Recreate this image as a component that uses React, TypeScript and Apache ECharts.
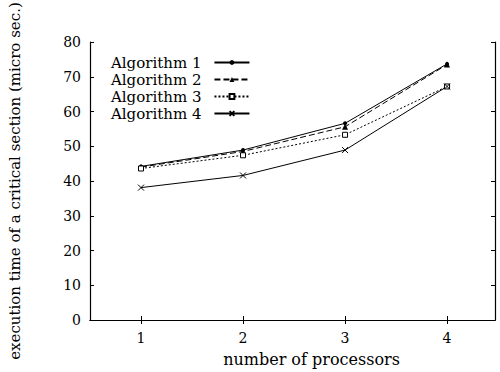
import React, { useEffect, useRef } from "react";
import * as echarts from "echarts";

const processors = [1, 2, 3, 4];
const seriesNames = ["Algorithm 1", "Algorithm 2", "Algorithm 3", "Algorithm 4"];
const alg1 = [44.2, 48.9, 56.6, 73.7];
const alg2 = [44.0, 48.5, 55.6, 73.5];
const alg3 = [43.6, 47.4, 53.3, 67.2];
const alg4 = [38.1, 41.6, 48.9, 67.2];
const xTitle = "number of processors";
const yTitle = "execution time of a critical section (micro sec.)";

const FONT = "DejaVu Serif";

export default function App() {
  const ref = useRef<HTMLDivElement>(null);
  useEffect(() => {
    if (!ref.current) return;
    const chart = echarts.init(ref.current, undefined, { renderer: "svg" });
    const pts = (vals: number[]) => processors.map((p, i) => [p, vals[i]]);
    const baseLine = { color: "#000", width: 1 };
    const xCommon = {
      type: "value" as const,
      min: 0.5,
      max: 4.47,
      splitLine: { show: false },
      axisLine: { show: true, lineStyle: { color: "#000", width: 1.2 } },
      axisTick: { show: true, inside: true, length: 4, customValues: processors, lineStyle: { color: "#000" } },
    };
    const yCommon = {
      type: "value" as const,
      min: 0,
      max: 80,
      interval: 10,
      splitLine: { show: false },
      axisLine: { show: true, lineStyle: { color: "#000", width: 1.2 } },
      axisTick: { show: true, inside: true, length: 4, lineStyle: { color: "#000" } },
    };
    chart.setOption({
      animation: false,
      backgroundColor: "#fff",
      textStyle: { fontFamily: FONT, color: "#000" },
      grid: { left: 90, right: 5, top: 42, bottom: 50 },
      legend: {
        left: 111,
        top: 55,
        orient: "vertical",
        align: "right",
        padding: 0,
        itemGap: 2,
        itemWidth: 35,
        itemHeight: 6,
        textStyle: { fontFamily: FONT, fontSize: 15, color: "#000", padding: [0, 8, 0, 0] },
        data: seriesNames,
      },
      xAxis: [
        {
          ...xCommon,
          position: "bottom",
          axisLabel: { show: true, customValues: processors, margin: 11, fontSize: 14, color: "#000", fontFamily: FONT },
          name: xTitle,
          nameLocation: "middle",
          nameGap: 31,
          nameTextStyle: { fontSize: 16, color: "#000", fontFamily: FONT, padding: [0, 0, 0, 38] },
        },
        { ...xCommon, position: "top", axisLabel: { show: false } },
      ],
      yAxis: [
        {
          ...yCommon,
          position: "left",
          axisLabel: { show: true, margin: 9, fontSize: 14, color: "#000", fontFamily: FONT },
        },
        { ...yCommon, position: "right", axisLabel: { show: false } },
      ],
      graphic: [
        {
          type: "text",
          x: 15,
          y: 181,
          rotation: Math.PI / 2,
          style: {
            text: yTitle,
            fontSize: 15,
            fontFamily: FONT,
            fill: "#000",
            textAlign: "center",
            textVerticalAlign: "middle",
          },
        },
      ],
      series: [
        {
          name: seriesNames[0],
          type: "line",
          data: pts(alg1),
          symbol: "circle",
          symbolSize: 4,
          lineStyle: { ...baseLine, type: "solid" },
          itemStyle: { color: "#000" },
        },
        {
          name: seriesNames[1],
          type: "line",
          data: pts(alg2),
          symbol: "triangle",
          symbolSize: 6,
          lineStyle: { ...baseLine, type: [6, 3] },
          itemStyle: { color: "#000" },
        },
        {
          name: seriesNames[2],
          type: "line",
          data: pts(alg3),
          symbol: "rect",
          symbolSize: 5,
          lineStyle: { ...baseLine, type: [2, 2] },
          itemStyle: { color: "#fff", borderColor: "#000", borderWidth: 1 },
        },
        {
          name: seriesNames[3],
          type: "line",
          data: pts(alg4),
          symbol: "path://M0,0L10,10M10,0L0,10",
          symbolSize: 6,
          lineStyle: { ...baseLine, type: "solid" },
          itemStyle: { color: "#000", borderColor: "#000", borderWidth: 1 },
        },
      ],
    });
    return () => chart.dispose();
  }, []);
  return (
    <div
      ref={ref}
      style={{ position: "fixed", left: 0, top: 0, width: 500, height: 372, background: "#fff" }}
    />
  );
}
